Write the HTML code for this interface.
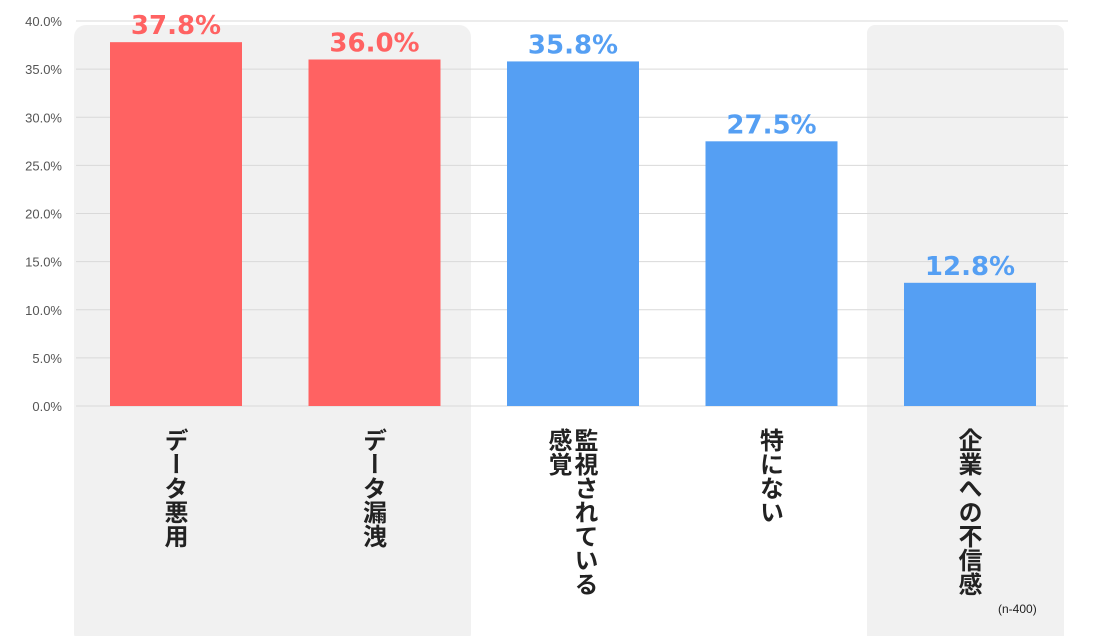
<!DOCTYPE html>
<html><head><meta charset="utf-8">
<style>
body{margin:0;background:#fff;width:1093px;height:636px;overflow:hidden;position:relative;font-family:"Liberation Sans","Noto Sans CJK JP",sans-serif;}
svg{position:absolute;left:0;top:0}
.lbl{position:absolute;top:428px;writing-mode:vertical-rl;font-family:"Noto Sans CJK JP",sans-serif;font-weight:bold;font-size:24px;line-height:26px;color:#222;white-space:pre;}
#note{position:absolute;left:998px;top:602px;font-size:12px;color:#222}
</style></head>
<body>
<svg id="chart" width="1093" height="636"></svg>
<div id="labels"></div>
<div id="note">(n-400)</div>
<script>
const categories=["データ悪用","データ漏洩","監視されている\n感覚","特にない","企業への不信感"];
const values=[37.8,36.0,35.8,27.5,12.8];
const valueLabels=["37.8%","36.0%","35.8%","27.5%","12.8%"];
const barColors=["#ff6262","#ff6262","#559ff3","#559ff3","#559ff3"];
const ticks=[0,5,10,15,20,25,30,35,40];
const ns="http://www.w3.org/2000/svg";
const svg=document.getElementById('chart');
const x0=76,x1=1068,y0=406,y40=21;
const y=v=>y0-(v/40)*(y0-y40);
const step=198.5,bw=132;
const cx=i=>176+i*step;
function mk(t,a){const e=document.createElementNS(ns,t);for(const k in a)e.setAttribute(k,a[k]);svg.appendChild(e);return e;}
let p=mk('rect',{x:74,y:25,width:397,height:620,rx:12,fill:'#f1f1f1'});


p=mk('rect',{x:867,y:25,width:197,height:620,rx:8,fill:'#f1f1f1'});


ticks.forEach(t=>{
 const l=mk('line',{x1:x0,x2:x1,y1:y(t),y2:y(t),stroke:'#d9d9d9','stroke-width':1});
 
 
 const tx=mk('text',{x:62,y:y(t)+5,'text-anchor':'end','font-size':13,fill:'#555','font-family':'Liberation Sans, sans-serif'});
 tx.textContent=t.toFixed(1)+'%';
 
 
});
values.forEach((v,i)=>{
 const r=mk('rect',{x:cx(i)-bw/2,y:y(v),width:bw,height:y0-y(v),fill:barColors[i]});
 
 
 const t=mk('text',{x:cx(i),y:y(v)-8,'text-anchor':'middle','font-size':26,'font-weight':'bold',fill:barColors[i],'font-family':'DejaVu Sans, sans-serif'});
 t.textContent=valueLabels[i];
 
 
});
const L=document.getElementById('labels');
categories.forEach((c,i)=>{
 const d=document.createElement('div');
 d.className='lbl';
 d.textContent=c;
 L.appendChild(d);
 
 
 d.style.left=(cx(i)-d.offsetWidth/2)+'px';
});
</script>
</body></html>
